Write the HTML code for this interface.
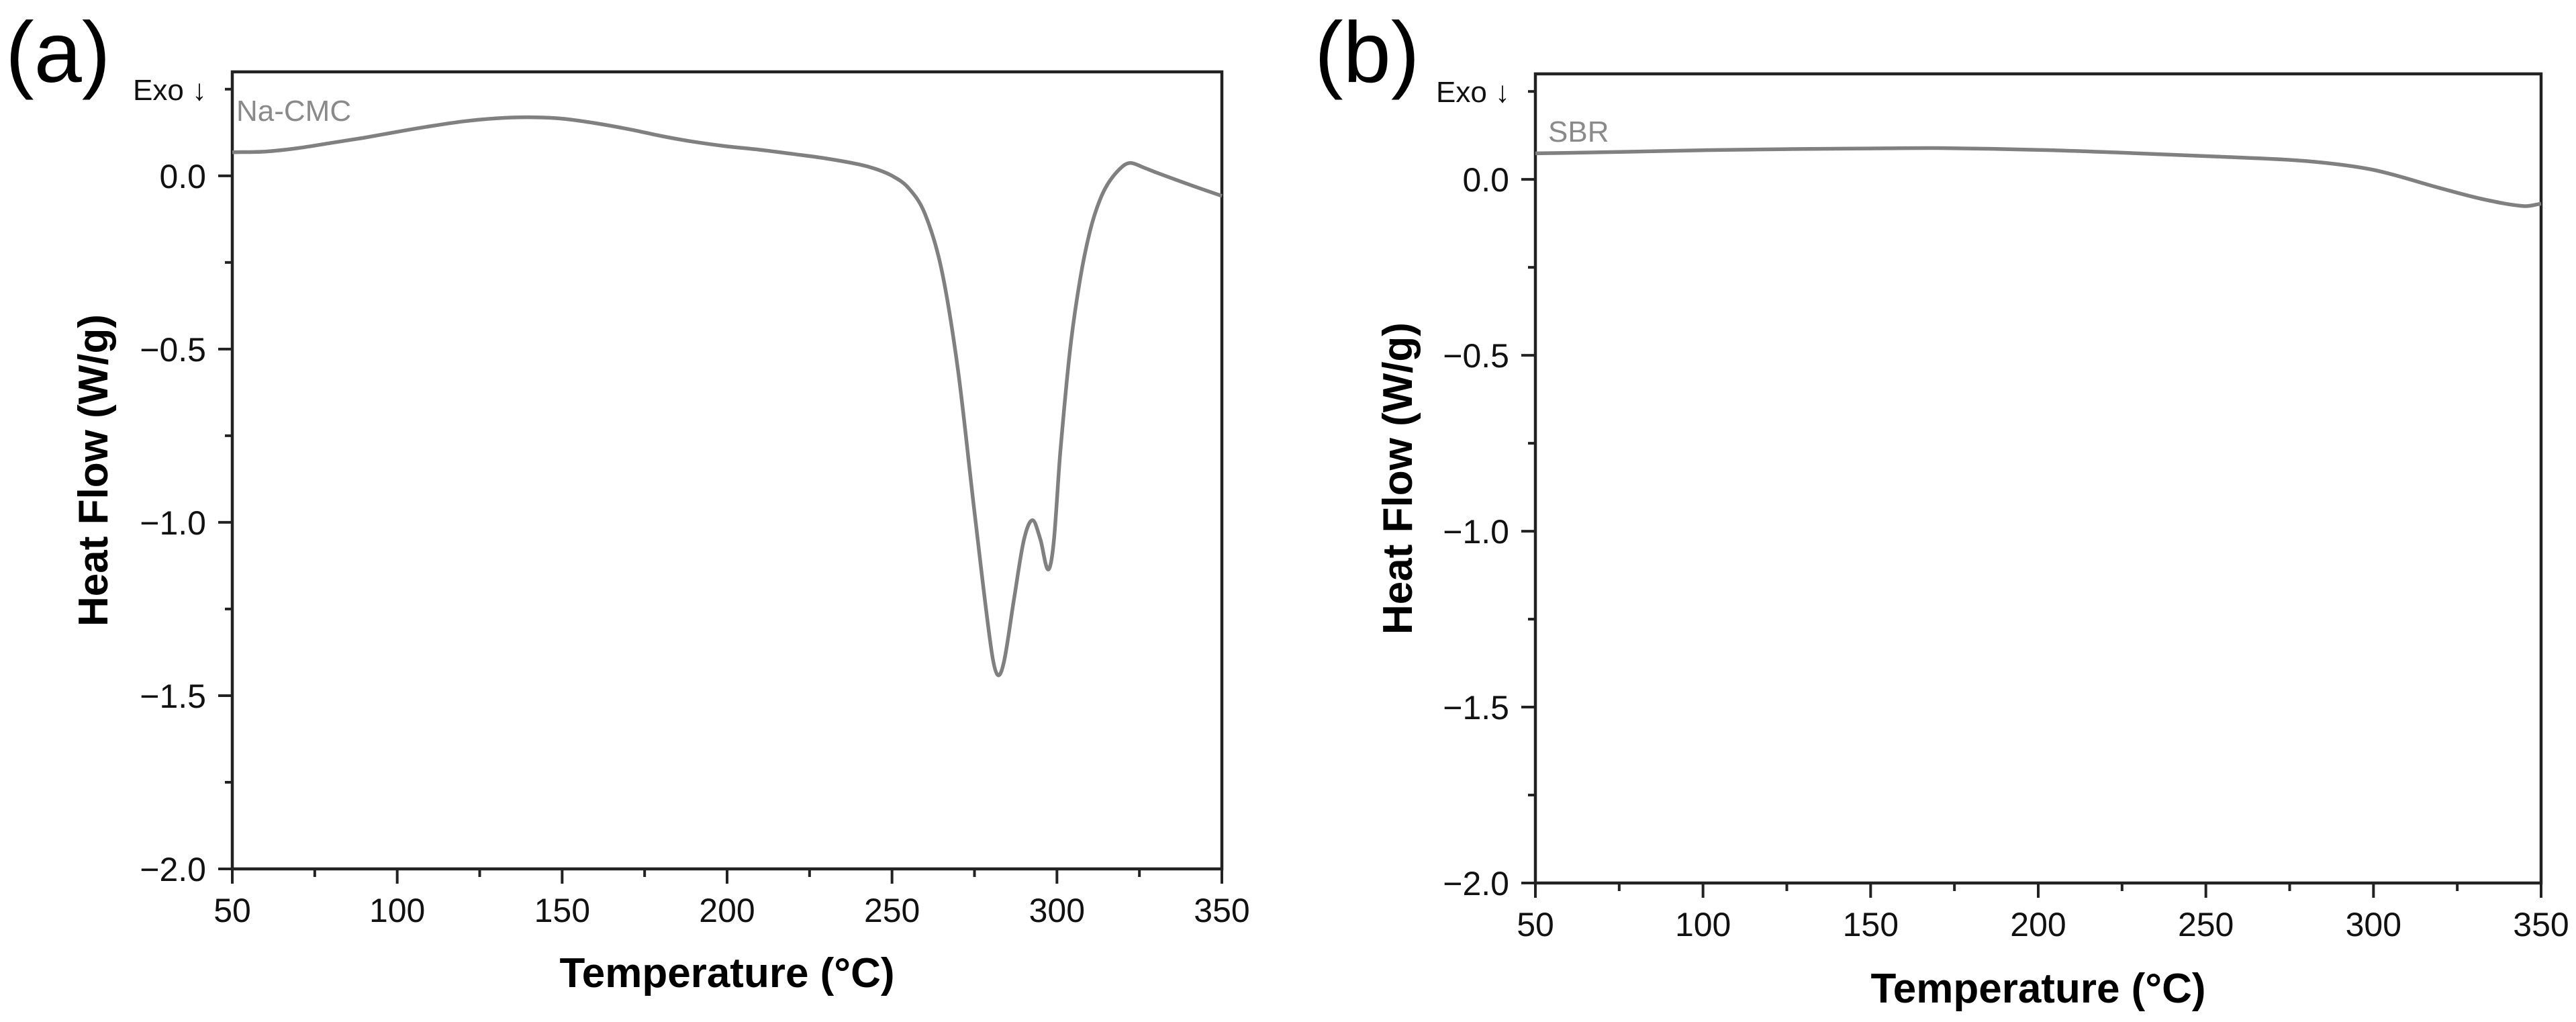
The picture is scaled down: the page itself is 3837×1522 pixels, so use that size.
<!DOCTYPE html>
<html><head><meta charset="utf-8">
<style>
html,body{margin:0;padding:0;background:#fff;}
svg{display:block;font-family:"Liberation Sans",Arial,sans-serif;}
</style></head>
<body>
<svg id="fig" width="3837" height="1522" viewBox="0 0 3837 1522" xmlns="http://www.w3.org/2000/svg">
<rect width="3837" height="1522" fill="#fff"/>
<text x="8" y="122" font-size="128">(a)</text>
<text x="1958" y="122" font-size="128">(b)</text>
<g id="pa"></g>
<g id="pb"></g>
</svg>
<script>
// Panel (a) Na-CMC data
const cmcTemp = [50,60,70,80,90,100,110,120,130,140,150,160,170,180,190,200,210,220,230,240,245,250,255,260,265,270,275,280,282,284,287,290,292.6,295,297.3,299,301,304,307,310,313,316,320,322.5,326,330,340,350];
const cmcFlow = [0.068,0.07,0.08,0.095,0.11,0.127,0.143,0.157,0.166,0.169,0.165,0.152,0.135,0.115,0.098,0.085,0.075,0.063,0.05,0.033,0.02,0.0,-0.035,-0.11,-0.27,-0.56,-0.97,-1.36,-1.44,-1.4,-1.22,-1.05,-0.994,-1.05,-1.136,-1.06,-0.8,-0.5,-0.3,-0.16,-0.07,-0.015,0.028,0.037,0.025,0.01,-0.025,-0.058];
// Panel (b) SBR data
const sbrTemp = [50,75,100,125,150,170,200,225,253,280,300,320,333,345,350];
const sbrFlow = [0.074,0.078,0.083,0.086,0.088,0.089,0.084,0.076,0.065,0.052,0.027,-0.025,-0.057,-0.076,-0.069];
// Axis tick values
const xMajorTicks = [50,100,150,200,250,300,350];
const xMinorTicks = [75,125,175,225,275,325];
const yMajorTicks = [0.0,-0.5,-1.0,-1.5,-2.0];
const yTickLabels = ["0.0","\u22120.5","\u22121.0","\u22121.5","\u22122.0"];
const yMinorTicks = [-0.25,-0.75,-1.25,-1.75];
const xDomain = [50,350];
const yDomain = [-2.0,0.3];

const NS = "http://www.w3.org/2000/svg";
function mk(parent, tag, attrs, text){
  const e = document.createElementNS(NS, tag);
  for (const k in attrs) e.setAttribute(k, attrs[k]);
  if (text !== undefined) e.textContent = text;
  parent.appendChild(e);
  return e;
}
function smoothPath(pts){
  const n = pts.length;
  const m = pts.map((p,i) => {
    const a = pts[Math.max(0,i-1)], b = pts[Math.min(n-1,i+1)];
    return (b[1]-a[1])/(b[0]-a[0]);
  });
  let d = "M" + pts[0][0].toFixed(1) + "," + pts[0][1].toFixed(1);
  for (let i=0;i<n-1;i++){
    const p1 = pts[i], p2 = pts[i+1], dx = (p2[0]-p1[0])/3;
    d += " C" + (p1[0]+dx).toFixed(1)+","+(p1[1]+m[i]*dx).toFixed(1)+" "+(p2[0]-dx).toFixed(1)+","+(p2[1]-m[i+1]*dx).toFixed(1)+" "+p2[0].toFixed(1)+","+p2[1].toFixed(1);
  }
  return d;
}
function drawPanel(g, box, temps, flows, seriesName, labelPos, titleX, off){
  const sx = v => box.l + (v - xDomain[0]) / (xDomain[1]-xDomain[0]) * (box.r - box.l);
  const sy = v => box.b - (v - yDomain[0]) / (yDomain[1]-yDomain[0]) * (box.b - box.t);
  const frame = mk(g, "rect", {x:box.l, y:box.t, width:box.r-box.l, height:box.b-box.t, fill:"none", stroke:"#222", "stroke-width":4.5});
  
  
  xMajorTicks.forEach(v => {
    const t = mk(g, "line", {x1:sx(v), x2:sx(v), y1:box.b, y2:box.b+22, stroke:"#222", "stroke-width":4});
    
    
    const lb = mk(g, "text", {x:sx(v), y:box.b+79, "font-size":50, "text-anchor":"middle", fill:"#111"}, String(v));
    
    
  });
  xMinorTicks.forEach(v => {
    const t = mk(g, "line", {x1:sx(v), x2:sx(v), y1:box.b, y2:box.b+12, stroke:"#222", "stroke-width":4});
    
    
  });
  yMajorTicks.forEach((v,i) => {
    const t = mk(g, "line", {x1:box.l-21, x2:box.l, y1:sy(v), y2:sy(v), stroke:"#222", "stroke-width":4});
    
    
    const lb = mk(g, "text", {x:box.l-39, y:sy(v)+18, "font-size":50, "text-anchor":"end", fill:"#111"}, yTickLabels[i]);
    
    
  });
  yMinorTicks.concat([0.25]).forEach(v => {
    const t = mk(g, "line", {x1:box.l-11, x2:box.l, y1:sy(v), y2:sy(v), stroke:"#222", "stroke-width":4});
    
    
  });
  const exo = mk(g, "text", {x:box.l-148, y:sy(0.25)+16, "font-size":44, fill:"#111"}, "Exo \u2193");
  
  
  const xt = mk(g, "text", {x:(box.l+box.r)/2, y:box.b+176+off, "font-size":62, "font-weight":"bold", "text-anchor":"middle", fill:"#000"}, "Temperature (\u00B0C)");
  
  
  const cy = (box.t+box.b)/2;
  const yt = mk(g, "text", {x:titleX, y:cy, "font-size":62, "font-weight":"bold", "text-anchor":"middle", fill:"#000", transform:"rotate(-90 "+titleX+" "+cy+")"}, "Heat Flow (W/g)");
  
  
  const pts = temps.map((t,i) => [sx(t), sy(flows[i])]);
  const line = mk(g, "path", {d:smoothPath(pts), fill:"none", stroke:"#808080", "stroke-width":5.5, "stroke-linejoin":"round"});
  
  
  const sl = mk(g, "text", {x:labelPos[0], y:labelPos[1], "font-size":44, fill:"#8a8a8a"}, seriesName);
  
  
}
drawPanel(document.getElementById("pa"), {l:346,r:1820,t:107,b:1294}, cmcTemp, cmcFlow, "Na-CMC", [352,180], 160, 0);
drawPanel(document.getElementById("pb"), {l:2287,r:3785,t:110,b:1315}, sbrTemp, sbrFlow, "SBR", [2306,211], 2103, 2);
</script>
</body></html>
